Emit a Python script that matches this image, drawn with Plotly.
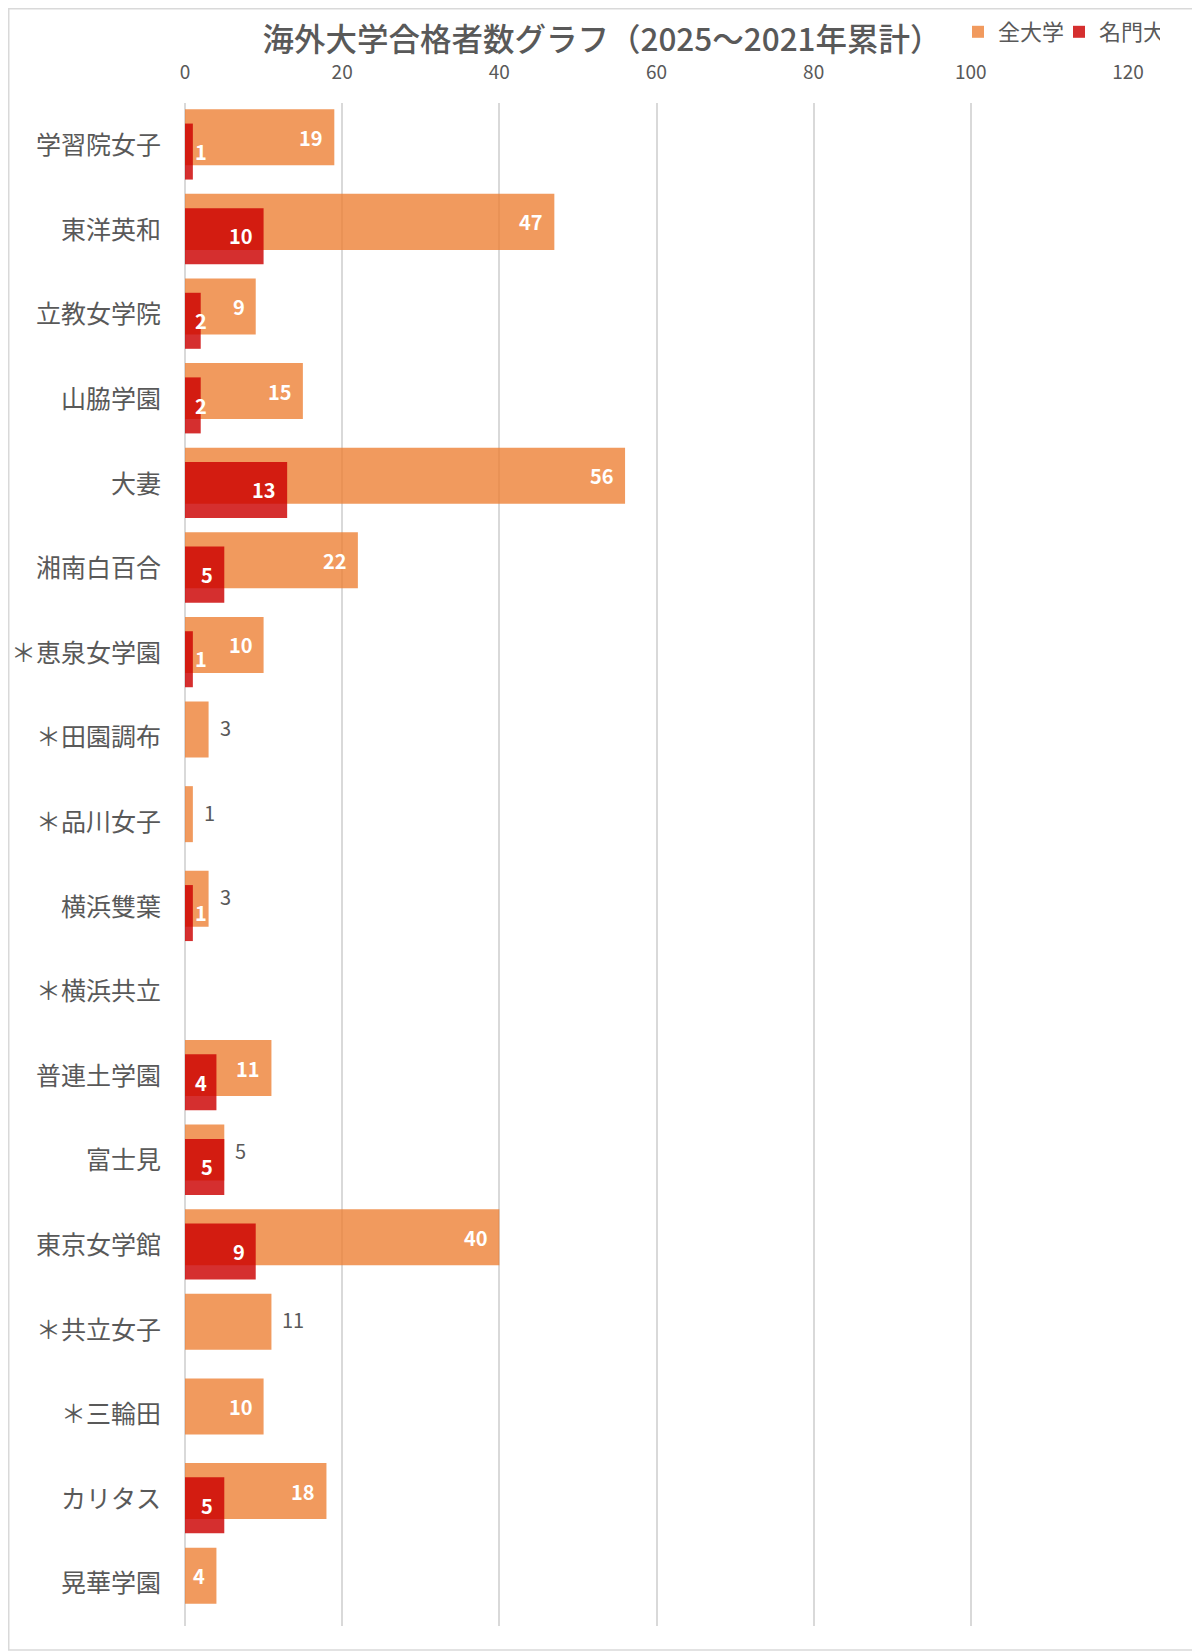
import plotly.graph_objects as go

# 学校名（上から順）
schools = [
    "学習院女子", "東洋英和", "立教女学院", "山脇学園", "大妻", "湘南白百合",
    "＊恵泉女学園", "＊田園調布", "＊品川女子", "横浜雙葉", "＊横浜共立",
    "普連土学園", "富士見", "東京女学館", "＊共立女子", "＊三輪田", "カリタス", "晃華学園",
]
# 全大学（2025～2021年累計）
all_univ = [19, 47, 9, 15, 56, 22, 10, 3, 1, 3, 0, 11, 5, 40, 11, 10, 18, 4]
# 名門大
top_univ = [1, 10, 2, 2, 13, 5, 1, None, None, 1, 0, 4, 5, 9, None, None, 5, None]

x_ticks = [0, 20, 40, 60, 80, 100, 120]

# labels that Excel put outside the orange bar
outside_labels = {"＊田園調布", "＊品川女子", "横浜雙葉", "富士見", "＊共立女子"}

FONT = "Noto Sans CJK JP"
GRAY = "#595959"
ORANGE = "rgba(237,125,49,0.78)"
RED = "rgba(203,0,0,0.815)"

# the page body adds 8px around the figure, so the figure is 8px smaller
W, H = 1192, 1644
M_L, M_R, M_T, M_B = 177, 72, 95, 26
pw = W - M_L - M_R
ph = H - M_T - M_B
px_per_unit = pw / 120.0

fig = go.Figure()
fig.add_trace(
    go.Bar(
        name="全大学",
        y=schools,
        x=all_univ,
        orientation="h",
        offset=-0.426,
        width=0.662,
        marker=dict(color=ORANGE, line=dict(width=0)),
    )
)
fig.add_trace(
    go.Bar(
        name="名門大",
        y=schools,
        x=top_univ,
        orientation="h",
        offset=-0.257,
        width=0.662,
        marker=dict(color=RED, line=dict(width=0)),
    )
)

# data labels
label_in = dict(family=FONT, size=20, color="white", weight=600)
label_out = dict(family=FONT, size=20, color=GRAY)
annotations = []
for name, v in zip(schools, all_univ):
    if not v:
        continue
    if name in outside_labels:
        annotations.append(dict(x=v, y=name, text=str(v), showarrow=False,
                                xanchor="left", xshift=9, yshift=10, font=label_out))
    else:
        annotations.append(dict(x=v, y=name, text=str(v), showarrow=False,
                                xanchor="right", xshift=-9, yshift=8, font=label_in))

for name, v in zip(schools, top_univ):
    if not v:
        continue
    if v * px_per_unit < 33:
        # too short for inside-end, sits at the base like Excel does
        annotations.append(dict(x=0, y=name, text=str(v), showarrow=False,
                                xanchor="left", xshift=8, yshift=-6, font=label_in))
    else:
        annotations.append(dict(x=v, y=name, text=str(v), showarrow=False,
                                xanchor="right", xshift=-9, yshift=-6, font=label_in))

fig.update_layout(
    width=W,
    height=H,
    margin=dict(l=M_L, r=M_R, t=M_T, b=M_B, autoexpand=False),
    paper_bgcolor="white",
    plot_bgcolor="white",
    barmode="overlay",
    font=dict(family=FONT, color=GRAY),
    title=dict(
        text="海外大学合格者数グラフ（2025～2021年累計）",
        x=594 / W,
        xanchor="center",
        y=1 - 32 / H,
        yanchor="middle",
        font=dict(family=FONT, size=31.5, color=GRAY, weight=500),
    ),
    legend=dict(
        orientation="h",
        xref="container",
        yref="container",
        x=1152 / W,
        xanchor="right",
        y=1 - 24 / H,
        yanchor="middle",
        bgcolor="rgba(0,0,0,0)",
        font=dict(family=FONT, size=22, color=GRAY),
        entrywidth=56,
        traceorder="normal",
    ),
    annotations=annotations,
    shapes=[
        dict(
            type="rect",
            xref="paper",
            yref="paper",
            x0=(0.75 - M_L) / pw,
            x1=(W - 2 - M_L) / pw,
            y0=-(M_B - 2) / ph,
            y1=(H - M_B - 0.75) / ph,
            line=dict(color="#D9D9D9", width=1.5),
            layer="below",
        )
    ],
)
fig.update_xaxes(
    side="top",
    range=[0, 120],
    tickvals=x_ticks,
    showgrid=True,
    gridcolor="#D9D9D9",
    gridwidth=1.5,
    zeroline=True,
    zerolinecolor="#D9D9D9",
    zerolinewidth=1.5,
    showline=False,
    ticks="outside",
    ticklen=15,
    tickcolor="rgba(0,0,0,0)",
    tickfont=dict(family=FONT, size=19, color=GRAY),
    automargin=False,
    fixedrange=True,
)
fig.update_yaxes(
    type="category",
    autorange="reversed",
    showgrid=False,
    showline=False,
    ticks="outside",
    ticklen=18,
    tickcolor="rgba(0,0,0,0)",
    tickfont=dict(family=FONT, size=25, color=GRAY),
    automargin=False,
    fixedrange=True,
)

fig.write_html("out.html")
